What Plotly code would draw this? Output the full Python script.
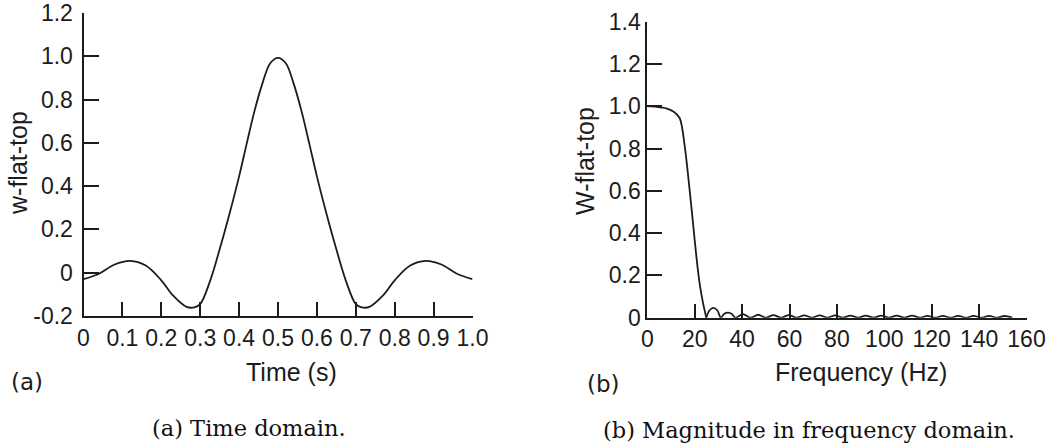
import plotly.graph_objects as go

# ---- time-domain flat-top window, w(t) ----
time_s = [0.0, 0.04, 0.08, 0.12, 0.16, 0.20, 0.23, 0.265, 0.285, 0.30, 0.325,
          0.35, 0.375, 0.40, 0.42, 0.44, 0.46, 0.48, 0.50,
          0.52, 0.54, 0.56, 0.58, 0.60, 0.625, 0.65, 0.675, 0.70, 0.715,
          0.735, 0.77, 0.80, 0.84, 0.88, 0.92, 0.96, 1.0]
w_flat_top = [-0.03, -0.005, 0.038, 0.055, 0.033, -0.035, -0.105, -0.158, -0.16, -0.145, -0.04,
              0.108, 0.27, 0.445, 0.60, 0.75, 0.875, 0.968, 0.993,
              0.968, 0.875, 0.75, 0.60, 0.445, 0.27, 0.108, -0.04, -0.145, -0.16,
              -0.158, -0.105, -0.035, 0.033, 0.055, 0.038, -0.005, -0.03]

# ---- magnitude spectrum |W(f)| : main lobe ----
main_freq_hz = [0, 4, 8, 11, 13.7, 15.8, 17.9, 19.3, 20.7, 22.1, 23.5, 24.9]
main_mag = [1.0, 0.997, 0.99, 0.975, 0.943, 0.81, 0.60, 0.446, 0.29, 0.16, 0.07, 0.0]

# ---- magnitude spectrum |W(f)| : side lobes ----
side_freq_hz = [24.9, 26.2, 27.9, 29.6, 31.0, 32.4, 34.1, 35.7, 37.2,
                40.4, 43.6, 46.8, 50.0, 53.2, 56.5, 59.7, 63.0, 66.2, 69.5,
                72.7, 76.0, 79.2, 82.5, 85.7, 89.0, 92.2, 95.5, 98.7, 102.0,
                105.2, 108.5, 111.7, 115.0, 118.2, 121.5, 124.7, 128.0, 131.2, 134.5,
                137.7, 141.0, 144.2, 147.5, 150.7, 154.0]
side_mag = [0.0, 0.034, 0.046, 0.034, 0.0, 0.018, 0.024, 0.017, 0.0,
            0.017, 0.0, 0.014, 0.0, 0.012, 0.0, 0.012, 0.0, 0.011, 0.0,
            0.011, 0.0, 0.011, 0.0, 0.010, 0.0, 0.010, 0.0, 0.010, 0.0,
            0.010, 0.0, 0.010, 0.0, 0.009, 0.0, 0.009, 0.0, 0.009, 0.0,
            0.009, 0.0, 0.009, 0.0, 0.008, 0.0]

time_ticks = [0, 0.1, 0.2, 0.3, 0.4, 0.5, 0.6, 0.7, 0.8, 0.9, 1.0]
time_tick_text = ["0", "0.1", "0.2", "0.3", "0.4", "0.5", "0.6", "0.7", "0.8", "0.9", "1.0"]
w_ticks = [-0.2, 0, 0.2, 0.4, 0.6, 0.8, 1.0, 1.2]
w_tick_text = ["-0.2", "0", "0.2", "0.4", "0.6", "0.8", "1.0", "1.2"]
freq_ticks = [0, 20, 40, 60, 80, 100, 120, 140, 160]
freq_tick_text = ["0", "20", "40", "60", "80", "100", "120", "140", "160"]
mag_ticks = [0, 0.2, 0.4, 0.6, 0.8, 1.0, 1.2, 1.4]
mag_tick_text = ["0", "0.2", "0.4", "0.6", "0.8", "1.0", "1.2", "1.4"]

W, H = 1054, 445
INK = "#1c1c1c"
SANS = "Liberation Sans, Arial, Helvetica, sans-serif"


def px_x(x):
    return x / W


def px_y(y):
    return 1 - y / H


line_style = dict(color=INK, width=1.8)

fig = go.Figure()
fig.add_trace(go.Scatter(x=time_s, y=w_flat_top, mode="lines", line=dict(**line_style, shape="spline", smoothing=1.0),
                         xaxis="x", yaxis="y", showlegend=False, hoverinfo="skip"))
fig.add_trace(go.Scatter(x=main_freq_hz, y=main_mag, mode="lines", line=dict(**line_style, shape="spline", smoothing=0.8),
                         xaxis="x2", yaxis="y2", showlegend=False, hoverinfo="skip"))
fig.add_trace(go.Scatter(x=side_freq_hz, y=side_mag, mode="lines", line=dict(**line_style, shape="spline", smoothing=0.9),
                         xaxis="x2", yaxis="y2", showlegend=False, hoverinfo="skip"))

axis_common = dict(
    showline=True, linewidth=2, linecolor=INK, showgrid=False, zeroline=False,
    ticks="inside", tickwidth=2, tickcolor=INK, tickmode="array", automargin=False,
    tickfont=dict(family=SANS, size=23, color=INK), fixedrange=True,
)

fig.update_layout(
    width=W, height=H, margin=dict(l=0, r=0, t=0, b=0, pad=0), autosize=False,
    paper_bgcolor="white", plot_bgcolor="white",
    xaxis=dict(axis_common, domain=[px_x(83.5), px_x(472.5)], range=[0, 1.0],
               tickvals=time_ticks, ticktext=time_tick_text, ticklen=14, anchor="y"),
    yaxis=dict(axis_common, domain=[px_y(316), px_y(13)], range=[-0.2, 1.2],
               tickvals=w_ticks, ticktext=w_tick_text, ticklen=15, anchor="x",
               ticklabelstandoff=4),
    xaxis2=dict(axis_common, domain=[px_x(647.3), px_x(1026.5)], range=[0, 160],
                tickvals=freq_ticks, ticktext=freq_tick_text, ticklen=14, anchor="y2"),
    yaxis2=dict(axis_common, domain=[px_y(317.7), px_y(21.6)], range=[0, 1.4],
                tickvals=mag_ticks, ticktext=mag_tick_text, ticklen=15, anchor="x2"),
)


def label(text, x, y, size, family=SANS, angle=0, color=INK):
    fig.add_annotation(text=text, x=px_x(x), y=px_y(y), xref="paper", yref="paper",
                       xanchor="center", yanchor="middle", showarrow=False, textangle=angle,
                       font=dict(family=family, size=size, color=color))


label("w-flat-top", 18, 163, 25, angle=-90)
label("Time (s)", 291, 372, 25)
label("(a)", 26.5, 382, 23, family="DejaVu Sans")
label("W-flat-top", 585, 161, 25, angle=-90)
label("Frequency (Hz)", 861, 372, 25)
label("(b)", 603, 384, 23, family="DejaVu Sans")
label("(a) Time domain.", 249, 428, 22.5, family="DejaVu Serif", color="#111111")
label("(b) Magnitude in frequency domain.", 809, 430, 22.5, family="DejaVu Serif", color="#111111")

fig.write_html("out.html")
